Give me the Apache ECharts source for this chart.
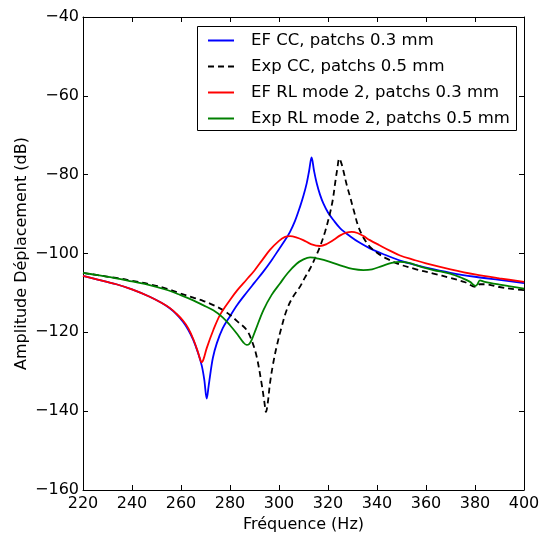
<!DOCTYPE html>
<html><head><meta charset="utf-8">
<script src="https://cdn.jsdelivr.net/npm/echarts@6/dist/echarts.min.js"></script>
<style>html,body{margin:0;padding:0;background:#fff}#c{width:542px;height:534px}</style>
</head><body><div id="c"></div>
<script>
const seriesNames = ['EF CC, patchs 0.3 mm', 'Exp CC, patchs 0.5 mm', 'EF RL mode 2, patchs 0.3 mm', 'Exp RL mode 2, patchs 0.5 mm'];
const xTicks = [220, 240, 260, 280, 300, 320, 340, 360, 380, 400];
const yTicks = [-160, -140, -120, -100, -80, -60, -40];

const efCC = [[220,-105.7],[226,-106.6],[233.6,-107.8],[240,-109.1],[247,-110.9],[252,-112.5],[255.4,-113.9],[258,-115.3],[260.8,-117.3],[263,-119.4],[265,-121.9],[267,-125.3],[268.5,-128.5],[269.5,-132],[270.5,-136.8],[271.3,-133.5],[271.8,-131.3],[273,-126.5],[274.6,-122.8],[277,-119],[280,-115.9],[283,-113],[286.8,-109.9],[290,-107.4],[293.6,-104.6],[297,-101.7],[300,-98.9],[302.5,-96.6],[304.5,-94.5],[306.5,-91.8],[308.6,-88.1],[310,-85.3],[311.3,-82.2],[312.3,-79],[313.3,-75.6],[314.3,-79],[315.4,-82.2],[316.7,-85],[318.1,-87.3],[320,-89.6],[322.2,-91.5],[325,-93.6],[329,-95.6],[333,-97.3],[337.1,-98.7],[342,-100],[349.4,-101.8],[355,-102.8],[360,-103.6],[370,-104.9],[380,-105.9],[390,-106.7],[400,-107.5]];

const expCC = [[220,-104.9],[226,-105.5],[233.6,-106.2],[240,-106.9],[247.2,-107.8],[254,-108.9],[259.6,-110.1],[265,-111.2],[269,-112],[273.2,-113.1],[277,-114.3],[280,-115.6],[283,-117.2],[286.8,-119.4],[289,-122.3],[290.9,-126.2],[292.9,-133],[294,-137.5],[294.7,-140.2],[295.5,-137.5],[296.3,-133],[297.5,-128.3],[299,-123.7],[301,-118.8],[303.1,-114.4],[305.5,-111.2],[308.6,-108.4],[310.5,-106.2],[312.7,-103.8],[314.7,-101.2],[316.7,-98.3],[318.8,-94.5],[320.8,-89.8],[322,-86.2],[322.9,-82.2],[323.8,-78.5],[324.6,-75.9],[325.4,-77],[326.2,-78.8],[327.6,-82.5],[329,-85.6],[330.7,-89.5],[332.4,-93.2],[334.5,-96],[337.1,-98.3],[340,-99.8],[344,-101.3],[349.4,-102.8],[356,-104],[363,-105.1],[370,-106.2],[376,-107.3],[380.5,-108.5],[382,-107.8],[384,-107.8],[390,-108.5],[395,-109],[400,-109.3]];

const efRL = [[220,-105.7],[226,-106.6],[233.6,-107.8],[240,-109.1],[247,-110.9],[252,-112.5],[255.4,-113.8],[258,-115.2],[260.8,-117],[263,-119],[265,-121.7],[266.8,-124.8],[267.8,-126.8],[268.4,-127.6],[269.2,-126.8],[270.5,-124],[273.2,-119.4],[276,-115.5],[280,-111.8],[283,-109.3],[286.8,-106.6],[290,-104.3],[293,-101.8],[296.3,-99.1],[300,-96.8],[302.5,-95.8],[304.5,-95.6],[307,-95.9],[309.9,-96.6],[313,-97.6],[316.7,-98.1],[319.5,-97.6],[322.2,-96.6],[325,-95.4],[327.5,-94.7],[329.7,-94.5],[332,-94.8],[334.5,-95.6],[337.1,-96.6],[341,-97.9],[345,-99.2],[349.4,-100.5],[355,-101.6],[360,-102.5],[370,-104],[380,-105.3],[390,-106.3],[400,-107.2]];

const expRL = [[220,-104.9],[226,-105.5],[233.6,-106.3],[240,-107.1],[247.2,-108],[254,-109.2],[259.6,-110.5],[265,-111.9],[269,-113.1],[273.2,-114.4],[277,-116.2],[280,-118.2],[283,-120.5],[285.5,-122.6],[286.8,-123.2],[287.8,-123],[288.8,-122],[290.5,-119.3],[293.6,-114.4],[297,-110.5],[300.4,-107.6],[303.5,-105],[307.2,-102.6],[310,-101.5],[312.7,-101],[316,-101.3],[320.8,-102.1],[326,-103.2],[330,-103.9],[334.4,-104.2],[338,-104],[342,-103.2],[346,-102.4],[349.4,-102.1],[353,-102.4],[358,-103.4],[363,-104.2],[369.8,-105.1],[375,-106.3],[378,-107.2],[380.2,-108.2],[381,-107.8],[382,-106.8],[384,-107.2],[390,-107.9],[395,-108.4],[400,-108.9]];

const FONT = '"DejaVu Sans", sans-serif';
const minus = v => String(v).replace('-', '\u2212');

const chart = echarts.init(document.getElementById('c'));

function xAx(pos, showLabel, withName) {
  const a = {
    type: 'value', position: pos,
    min: xTicks[0], max: xTicks[xTicks.length - 1], interval: xTicks[1] - xTicks[0],
    axisLine: {show: true, onZero: false, lineStyle: {color: '#000', width: 1}},
    axisTick: {show: true, inside: true, length: 5, lineStyle: {color: '#000', width: 1}},
    axisLabel: {show: showLabel, fontSize: 16, color: '#000', fontFamily: FONT, margin: 6, formatter: minus},
    splitLine: {show: false}
  };
  if (withName) {
    a.name = 'Fréquence (Hz)';
    a.nameLocation = 'middle';
    a.nameGap = 27;
    a.nameMoveOverlap = false;
    a.nameTextStyle = {fontSize: 16, color: '#000', fontFamily: FONT};
  }
  return a;
}
function yAx(pos, showLabel, withName) {
  const a = {
    type: 'value', position: pos,
    min: yTicks[0], max: yTicks[yTicks.length - 1], interval: yTicks[1] - yTicks[0],
    axisLine: {show: true, onZero: false, lineStyle: {color: '#000', width: 1}},
    axisTick: {show: true, inside: true, length: 5, lineStyle: {color: '#000', width: 1}},
    axisLabel: {show: showLabel, fontSize: 16, color: '#000', fontFamily: FONT, margin: 4, formatter: minus},
    splitLine: {show: false}
  };
  if (withName) {
    a.name = 'Amplitude Déplacement (dB)';
    a.nameLocation = 'middle';
    a.nameGap = 53;
    a.nameMoveOverlap = false;
    a.nameTextStyle = {fontSize: 16, color: '#000', fontFamily: FONT};
  }
  return a;
}

const colors = ['#0000ff', '#000000', '#ff0000', '#008000'];
const datas = [efCC, expCC, efRL, expRL];

chart.setOption({
  animation: false,
  backgroundColor: '#fff',
  grid: {left: 83, right: 18, top: 17, bottom: 44, containLabel: false, outerBoundsMode: 'none'},
  xAxis: [xAx('bottom', true, true), xAx('top', false, false)],
  yAxis: [yAx('left', true, true), yAx('right', false, false)],
  graphic: [{
    type: 'rect', z: 10,
    shape: {x: 197.5, y: 26.5, width: 319, height: 104},
    style: {fill: '#fff', stroke: '#000', lineWidth: 1}
  }],
  legend: {
    orient: 'vertical', left: 207, top: 32, z: 20,
    itemWidth: 26, itemHeight: 14, itemGap: 9, padding: 0,
    itemStyle: {color: 'rgba(0,0,0,0)', borderWidth: 0, borderColor: 'rgba(0,0,0,0)'},
    textStyle: {fontSize: 16.5, color: '#000', fontFamily: FONT, lineHeight: 16, padding: [0, 0, 0, 12]},
    data: seriesNames
  },
  series: datas.map((d, i) => ({
    name: seriesNames[i], type: 'line', data: d,
    xAxisIndex: 0, yAxisIndex: 0,
    showSymbol: false, symbol: 'none',
    smooth: 0.35,
    lineStyle: {color: colors[i], width: 1.8, type: i === 1 ? [6, 4] : 'solid'},
    itemStyle: {color: colors[i]}
  }))
});
</script></body></html>
